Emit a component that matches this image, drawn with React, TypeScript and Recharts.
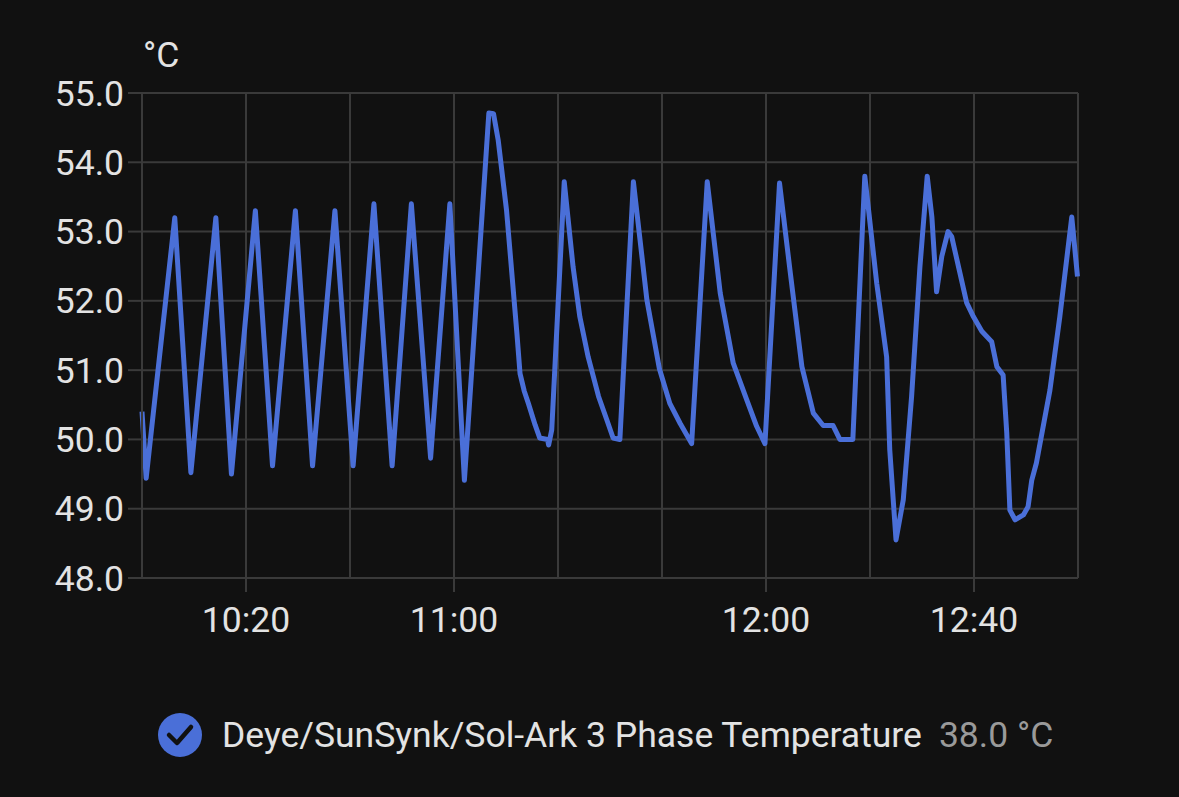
import { LineChart, Line, XAxis, YAxis, CartesianGrid } from 'recharts';

// minutes since 10:00
const minutes = [
  0, 0.8, 6.3, 9.4, 14.2, 17.2, 21.8, 25.1, 29.5, 32.8, 37.1, 40.6, 44.6, 48.1, 51.8, 55.5, 59.2, 62.0,
  66.7, 67.6, 68.5, 70.1, 72.1, 72.7, 73.5, 74.3, 75.6, 76.5, 78.0, 78.2, 78.8,
  81.2, 82.9, 84.2, 85.8, 87.8, 89.4, 90.6, 91.9,
  94.5, 97.1, 99.5, 101.5, 103.5, 105.7,
  108.7, 111.2, 113.7, 116.3, 118.2, 119.8,
  122.6, 124.6, 126.9, 129.1, 131.0, 132.9, 134.2, 136.7,
  139.0, 141.3, 143.2, 143.8, 145.0, 146.4, 148.0, 149.6,
  151.0, 151.9, 152.8, 153.8, 155.0, 155.7, 157.3, 158.6, 159.9, 161.5, 163.4, 164.4, 165.6,
  166.3, 166.9, 167.9, 169.5, 170.4, 171.1, 172.0, 174.6, 176.5, 178.8, 179.9,
];

const temps = [
  50.4, 49.44, 53.2, 49.52, 53.2, 49.5, 53.3, 49.62, 53.3, 49.62, 53.3, 49.62, 53.4, 49.62, 53.4, 49.73, 53.4, 49.41,
  54.71, 54.7, 54.32, 53.31, 51.53, 50.95, 50.7, 50.52, 50.21, 50.02, 50.0, 49.92, 50.14,
  53.72, 52.49, 51.77, 51.19, 50.62, 50.28, 50.02, 50.0,
  53.72, 52.01, 51.02, 50.52, 50.23, 49.94,
  53.72, 52.11, 51.1, 50.57, 50.19, 49.94,
  53.7, 52.45, 51.05, 50.38, 50.2, 50.2, 50.0, 50.0,
  53.8, 52.25, 51.19, 49.85, 48.55, 49.13, 50.62, 52.49,
  53.8, 53.21, 52.13, 52.64, 53.0, 52.93, 52.4, 51.97, 51.77, 51.56, 51.41, 51.05, 50.93,
  50.09, 48.98, 48.84, 48.91, 49.03, 49.41, 49.66, 50.71, 51.77, 53.21, 52.35,
];

const gridMinutes = [0, 20, 40, 60, 80, 100, 120, 140, 160, 180];
const labeledMinutes = [20, 60, 120, 160];
const yTicks = [48, 49, 50, 51, 52, 53, 54, 55];

const data = minutes.map((m, i) => ({ t: m, temp: temps[i] }));

const GRID = '#3a3a3a';
const TEXT = '#e3e3e3';
const BLUE = '#4a6fd8';
const FONT = 'Roboto, "Noto Sans", sans-serif';
const FS = 35.5;

const fmtTime = (m: number) => {
  const h = 10 + Math.floor(m / 60);
  const mm = m % 60;
  return `${h}:${mm < 10 ? '0' : ''}${mm}`;
};

const TimeTick = (props: any) => {
  const { x, y, payload } = props;
  if (!labeledMinutes.includes(payload.value)) return null;
  return (
    <g>
      <line x1={x} x2={x} y1={y - 29} y2={y - 15} stroke={GRID} strokeWidth={2} />
      <text x={x} y={y} dy="0.71em" textAnchor="middle" fill={TEXT} fontSize={FS} fontFamily={FONT}>
        {fmtTime(payload.value)}
      </text>
    </g>
  );
};

export default function App() {
  return (
    <div style={{ position: 'relative', width: 1179, height: 797, background: '#111111', fontFamily: FONT }}>
      <style>{`body{margin:0;background:#111111}`}</style>
      <div style={{ position: 'absolute', left: 143, top: 34, fontSize: FS, color: TEXT, lineHeight: '42px' }}>°C</div>
      <LineChart width={1179} height={797} data={data} margin={{ top: 93, right: 101, bottom: 0, left: 0 }}>
        <CartesianGrid stroke={GRID} strokeWidth={2} />
        <XAxis
          dataKey="t"
          type="number"
          domain={[0, 180]}
          ticks={gridMinutes}
          interval={0}
          tick={<TimeTick />}
          tickLine={false}
          tickSize={14}
          tickMargin={15}
          axisLine={{ stroke: GRID, strokeWidth: 2 }}
          height={219}
        />
        <YAxis
          type="number"
          domain={[48, 55]}
          ticks={yTicks}
          interval={0}
          width={142}
          tickFormatter={(v: number) => v.toFixed(1)}
          tick={{ fill: TEXT, fontSize: FS, fontFamily: FONT }}
          tickLine={{ stroke: GRID, strokeWidth: 2 }}
          tickSize={14}
          tickMargin={4}
          axisLine={{ stroke: GRID, strokeWidth: 2 }}
        />
        <Line
          type="linear"
          dataKey="temp"
          stroke={BLUE}
          strokeWidth={5}
          dot={false}
          strokeLinejoin="round"
          isAnimationActive={false}
        />
      </LineChart>
      <div
        style={{
          position: 'absolute',
          left: 158,
          top: 712,
          height: 46,
          display: 'flex',
          alignItems: 'center',
          fontSize: FS,
          whiteSpace: 'nowrap',
        }}
      >
        <svg width={44} height={44} viewBox="0 0 44 44" style={{ marginRight: 20 }}>
          <circle cx={22} cy={22} r={22} fill={BLUE} />
          <path d="M11 22 L19 30 L33 14" fill="none" stroke="#111111" strokeWidth={4.5} strokeLinecap="round" strokeLinejoin="round" />
        </svg>
        <span style={{ color: TEXT }}>Deye/SunSynk/Sol-Ark 3 Phase Temperature</span>
        <span style={{ color: '#9a9a9a', marginLeft: 17 }}>38.0 °C</span>
      </div>
    </div>
  );
}
